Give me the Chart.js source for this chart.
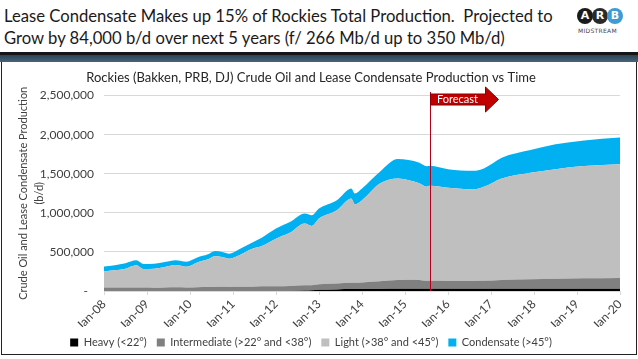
<!DOCTYPE html>
<html lang="en">
<head>
    <meta charset="UTF-8">
    <title>Rockies Crude Oil and Lease Condensate Production</title>
    <script src="https://cdn.jsdelivr.net/npm/chart.js"></script>
    <style>
        body { margin: 0; width: 638px; height: 359px; background: #fff; position: relative; overflow: hidden; font-family: Lato, sans-serif; }
        #headline { position: absolute; left: 4px; top: 4px; font-size: 18px; line-height: 22px; color: #1a1a1a; white-space: nowrap;
                    transform: scaleX(0.925); transform-origin: left top; }
        #bar { position: absolute; left: 0; top: 52px; width: 638px; height: 10px;
               background: linear-gradient(#151515 0, #151515 25%, #2c4558 35%, #4a6477 100%); }
        #box { position: absolute; left: 1px; top: 62px; width: 634px; height: 292px; border: 1px solid #222; border-top: none; }
        #resultChart { position: absolute; left: 0; top: 0; }
        .logo { position: absolute; top: 8px; width: 16px; height: 16px; border-radius: 50%; color: #fff;
                font: bold 11px "DejaVu Sans", sans-serif; text-align: center; line-height: 16px; }
        #mid { position: absolute; left: 578px; top: 27px; font: 6px "DejaVu Sans", sans-serif; color: #444; letter-spacing: 0.3px; }
    </style>
</head>
<body>
    <div id="headline">Lease Condensate Makes up 15% of Rockies Total Production.&nbsp; Projected to<br>Grow by 84,000 b/d over next 5 years (f/ 266 Mb/d up to 350 Mb/d)</div>
    <div class="logo" style="left:577px;background:#1b1b1b">A</div>
    <div class="logo" style="left:592px;background:#2a2a2a">R</div>
    <div class="logo" style="left:607px;background:#3f9bd3">B</div>
    <div id="mid">MIDSTREAM</div>
    <div id="bar"></div>
    <div id="box">
        <canvas id="resultChart" width="634" height="292"></canvas>
    </div>
    <script>
        // data points (b/d)
        const dates = ['2008-01','2008-04','2008-07','2008-10','2008-12','2009-03','2009-06','2009-09','2009-12',
            '2010-03','2010-06','2010-08','2010-10','2010-12','2011-03','2011-06','2011-09','2012-01','2012-05',
            '2012-09','2012-11','2013-01','2013-06','2013-10','2013-11','2014-01','2014-06','2014-11','2015-02',
            '2015-05','2015-07','2015-08','2016-01','2016-08','2016-11','2017-04','2017-12','2018-07','2019-03','2020-01'];
        const heavy = [0,0,0,0,0,0,0,0,0,
            0,0,0,0,0,0,0,0,0,0,
            6000,10000,15000,20000,24000,24000,26000,27000,28000,28000,
            28000,28000,28000,28000,28000,28000,28000,28000,28000,28000,28000];
        const intermediate = [45000,45000,45000,45000,45000,42000,45000,48000,45000,
            48000,50000,52000,55000,52000,55000,55000,60000,60000,65000,
            69000,65000,70000,75000,81000,81000,84000,98000,112000,117000,
            112000,102000,102000,100000,100000,102000,112000,122000,130000,134000,139000];
        const light = [206000,220000,240000,283000,235000,243000,263000,284000,265000,
            318000,355000,397000,380000,362000,410000,480000,515000,610000,682000,
            788000,758000,842000,938000,1078000,1005000,1052000,1251000,1300000,1273000,
            1240000,1205000,1215000,1192000,1171000,1203000,1300000,1363000,1401000,1436000,1456000];
        const condensate = [64000,65000,70000,64000,65000,65000,64000,63000,65000,
            64000,65000,64000,65000,64000,75000,75000,105000,129000,138000,
            128000,136000,128000,129000,129000,137000,150000,150000,248000,257000,
            260000,260000,257000,239000,239000,235000,265000,290000,317000,329000,342000];
        const seriesNames = ['Heavy (<22°)', 'Intermediate (>22° and <38°)', 'Light (>38° and <45°)', 'Condensate (>45°)'];
        const seriesColors = ['#000000', '#808080', '#bfbfbf', '#00b0f0'];
        const yTicks = [0, 500000, 1000000, 1500000, 2000000, 2500000];
        const xYears = [2008, 2009, 2010, 2011, 2012, 2013, 2014, 2015, 2016, 2017, 2018, 2019, 2020];
        const forecastStart = '2015-08';

        function toYear(d) {
            const p = d.split('-');
            return Number(p[0]) + (Number(p[1]) - 1) / 12;
        }
        const xs = dates.map(toYear);
        const seriesData = [heavy, intermediate, light, condensate];

        // red "Forecast" flag
        const forecastFlag = {
            id: 'forecastFlag',
            afterDatasetsDraw(chart) {
                const ctx = chart.ctx;
                const x = Math.round(chart.scales.x.getPixelForValue(toYear(forecastStart))) + 0.5;
                const bottom = chart.chartArea.bottom;
                const top = 30;
                ctx.save();
                ctx.strokeStyle = '#b0001a';
                ctx.lineWidth = 1;
                ctx.beginPath();
                ctx.moveTo(x, top);
                ctx.lineTo(x, bottom);
                ctx.stroke();
                ctx.fillStyle = '#c00000';
                ctx.strokeStyle = '#8b0000';
                ctx.beginPath();
                ctx.moveTo(x, top + 2);
                ctx.lineTo(x + 55, top + 2);
                ctx.lineTo(x + 55, top - 5);
                ctx.lineTo(x + 68, top + 7.5);
                ctx.lineTo(x + 55, top + 20);
                ctx.lineTo(x + 55, top + 13);
                ctx.lineTo(x, top + 13);
                ctx.closePath();
                ctx.fill();
                ctx.stroke();
                ctx.fillStyle = '#fff';
                ctx.font = '11px Lato';
                ctx.textAlign = 'center';
                ctx.textBaseline = 'middle';
                ctx.fillText('Forecast', x + 27, top + 7.5);
                ctx.restore();
            }
        };

        const ctx = document.getElementById('resultChart').getContext('2d');
        new Chart(ctx, {
            type: 'line',
            data: {
                datasets: seriesNames.map((name, i) => ({
                    label: name,
                    data: xs.map((x, j) => ({ x: x, y: seriesData[i][j] })),
                    backgroundColor: seriesColors[i],
                    borderColor: seriesColors[i],
                    borderWidth: 0,
                    pointRadius: 0,
                    fill: i === 0 ? 'origin' : '-1',
                    cubicInterpolationMode: 'monotone'
                }))
            },
            options: {
                responsive: false,
                animation: false,
                layout: { padding: { left: 0, right: 16, top: 0, bottom: -4 } },
                scales: {
                    x: {
                        type: 'linear',
                        min: 2008,
                        max: 2020,
                        afterBuildTicks: (scale) => { scale.ticks = xYears.map(v => ({ value: v })); },
                        afterFit: (scale) => { scale.height = 36; },
                        ticks: {
                            callback: (v) => 'Jan-' + String(v).slice(2),
                            maxRotation: 45,
                            minRotation: 45,
                            color: '#404040',
                            font: { family: 'Lato', size: 12 },
                            padding: 2
                        },
                        grid: { drawOnChartArea: false, drawTicks: true, tickLength: 4, color: '#d9d9d9' },
                        border: { color: '#d9d9d9' }
                    },
                    y: {
                        stacked: true,
                        min: 0,
                        max: 2500000,
                        afterBuildTicks: (scale) => { scale.ticks = yTicks.map(v => ({ value: v })); },
                        afterFit: (scale) => { scale.width = 102; },
                        ticks: {
                            callback: (v) => v === 0 ? '-  ' : v.toLocaleString('en-US'),
                            color: '#404040',
                            font: { family: 'Lato', size: 12 },
                            padding: 10
                        },
                        grid: { color: '#d9d9d9', drawTicks: false },
                        border: { display: false },
                        title: {
                            display: true,
                            text: ['Crude Oil and Lease Condensate Production', '(b/d)'],
                            color: '#404040',
                            font: { family: 'Lato', size: 11, lineHeight: 1.5 },
                            padding: { top: 13, bottom: 0 }
                        }
                    }
                },
                plugins: {
                    title: {
                        display: true,
                        text: 'Rockies (Bakken, PRB, DJ) Crude Oil and Lease Condensate Production vs Time',
                        color: '#262626',
                        font: { family: 'Lato', size: 13, weight: 'normal' },
                        padding: { top: 8, bottom: 10 }
                    },
                    legend: {
                        position: 'bottom',
                        labels: {
                            boxWidth: 8,
                            boxHeight: 8,
                            padding: 10,
                            color: '#404040',
                            font: { family: 'Lato', size: 11 }
                        }
                    },
                    tooltip: { enabled: false }
                }
            },
            plugins: [forecastFlag]
        });
    </script>
</body>
</html>
